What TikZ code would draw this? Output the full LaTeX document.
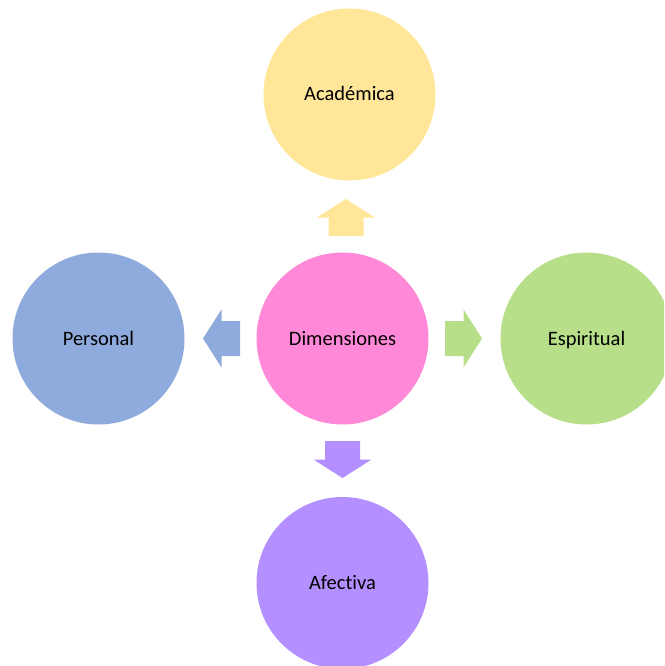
\documentclass[tikz,border=0pt]{standalone}
\usepackage{fontspec}
\setmainfont{Carlito}[Ligatures=NoCommon]
\usepackage{tikz}
\usetikzlibrary{positioning}
\definecolor{goldlight}{HTML}{FFE699}
\definecolor{bluelight}{HTML}{8FAADC}
\definecolor{pinklight}{HTML}{FF89D8}
\definecolor{greenlight}{HTML}{B7DE89}
\definecolor{violetlight}{HTML}{B38FFF}

\begin{document}
\begin{tikzpicture}[x=1pt,y=-1pt,
  dimcircle/.style={circle,minimum size=172pt,inner sep=0pt,text height=15pt,text depth=2pt,
    font=\fontsize{20.5}{24}\selectfont}]
\useasboundingbox (0,0) rectangle (664,666);
\clip (0,0) rectangle (664,666);
% circles
\node[dimcircle,fill=pinklight] (dim) at (342.5,338.5) {Dimensiones};
\node[dimcircle,fill=goldlight] (acad) at (349.5,94.5) {Académica};
\node[dimcircle,fill=bluelight] (pers) at (98.5,338.5) {Personal};
\node[dimcircle,fill=greenlight] (espi) at (586.5,338.5) {Espiritual};
\node[dimcircle,fill=violetlight] (afec) at (342.5,583) {Afectiva};
% block arrows
\foreach \ang/\col/\dx in {90/goldlight/3.5,180/bluelight/0,0/greenlight/0,270/violetlight/0}
\fill[\col,shift={(dim.center)},xshift=\dx pt,rotate=\ang] (102.5,-17.5) -- (121,-17.5) -- (121,-29) -- (139.5,0) -- (121,29) -- (121,17.5) -- (102.5,17.5) -- cycle;
\end{tikzpicture}
\end{document}
